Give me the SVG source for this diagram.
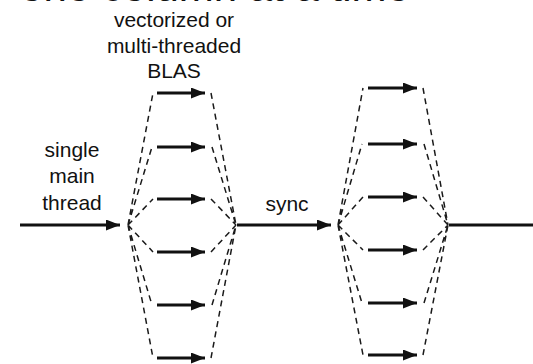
<svg xmlns="http://www.w3.org/2000/svg" width="533" height="364" viewBox="0 0 533 364">
<style>
text{font-family:"Liberation Sans",Arial,sans-serif;fill:#111;text-anchor:middle}
.lbl{font-size:21px}
.ttl{font-size:42px}
.arr{stroke:#111;stroke-width:3.2;fill:none;marker-end:url(#ah)}
.main{stroke:#111;stroke-width:2.8;fill:none}
.dash{stroke:#1a1a1a;stroke-width:1.5;fill:none;stroke-dasharray:6 4.5}
</style>
<defs>
<marker id="ah" markerUnits="userSpaceOnUse" markerWidth="15" markerHeight="11" refX="14" refY="5.5" orient="auto">
<path d="M0,0 L14,5.5 L0,11 Z" fill="#111"/>
</marker>
</defs>
<rect width="533" height="364" fill="#fff"/>
<text class="ttl" x="215" y="0.5">one column at a time</text>
<g id="label-blas"><text class="lbl" x="174" y="27">vectorized or</text><text class="lbl" x="174" y="53">multi-threaded</text><text class="lbl" x="174" y="78">BLAS</text></g>
<g id="label-main"><text class="lbl" x="72" y="157">single</text><text class="lbl" x="72" y="183">main</text><text class="lbl" x="72" y="210">thread</text></g>
<g id="label-sync"><text class="lbl" x="287" y="211">sync</text></g>
<g id="connectors">
<line class="arr" x1="20" y1="225" x2="120" y2="225"/>
<line class="arr" x1="237" y1="225" x2="331" y2="225"/>
<line class="main" x1="449" y1="225" x2="533" y2="225"/>
<g id="group1">
<path class="dash" d="M128,225 L153,93 M128,225 L152,147 M128,225 L153,199 M128,225 L153,252 M128,225 L152,305 M128,225 L153,358"/>
<path class="dash" d="M211,93 L236,225 M212,147 L236,225 M211,199 L236,225 M211,252 L236,225 M212,305 L236,225 M211,358 L236,225"/>
<line class="arr" x1="157" y1="93" x2="205" y2="93"/>
<line class="arr" x1="157" y1="147" x2="205" y2="147"/>
<line class="arr" x1="157" y1="199" x2="205" y2="199"/>
<line class="arr" x1="157" y1="252" x2="205" y2="252"/>
<line class="arr" x1="157" y1="305" x2="205" y2="305"/>
<line class="arr" x1="157" y1="358" x2="205" y2="358"/>
</g>
<g id="group2">
<path class="dash" d="M338,225 L363,88 M338,225 L362,144 M338,225 L363,197 M338,225 L363,250 M338,225 L362,303 M338,225 L363,355"/>
<path class="dash" d="M423,88 L448,225 M424,144 L448,225 M423,197 L448,225 M423,250 L448,225 M424,303 L448,225 M423,355 L448,225"/>
<line class="arr" x1="368" y1="88" x2="417" y2="88"/>
<line class="arr" x1="368" y1="144" x2="417" y2="144"/>
<line class="arr" x1="368" y1="197" x2="417" y2="197"/>
<line class="arr" x1="368" y1="250" x2="417" y2="250"/>
<line class="arr" x1="368" y1="303" x2="417" y2="303"/>
<line class="arr" x1="368" y1="355" x2="417" y2="355"/>
</g>
</g>
</svg>
